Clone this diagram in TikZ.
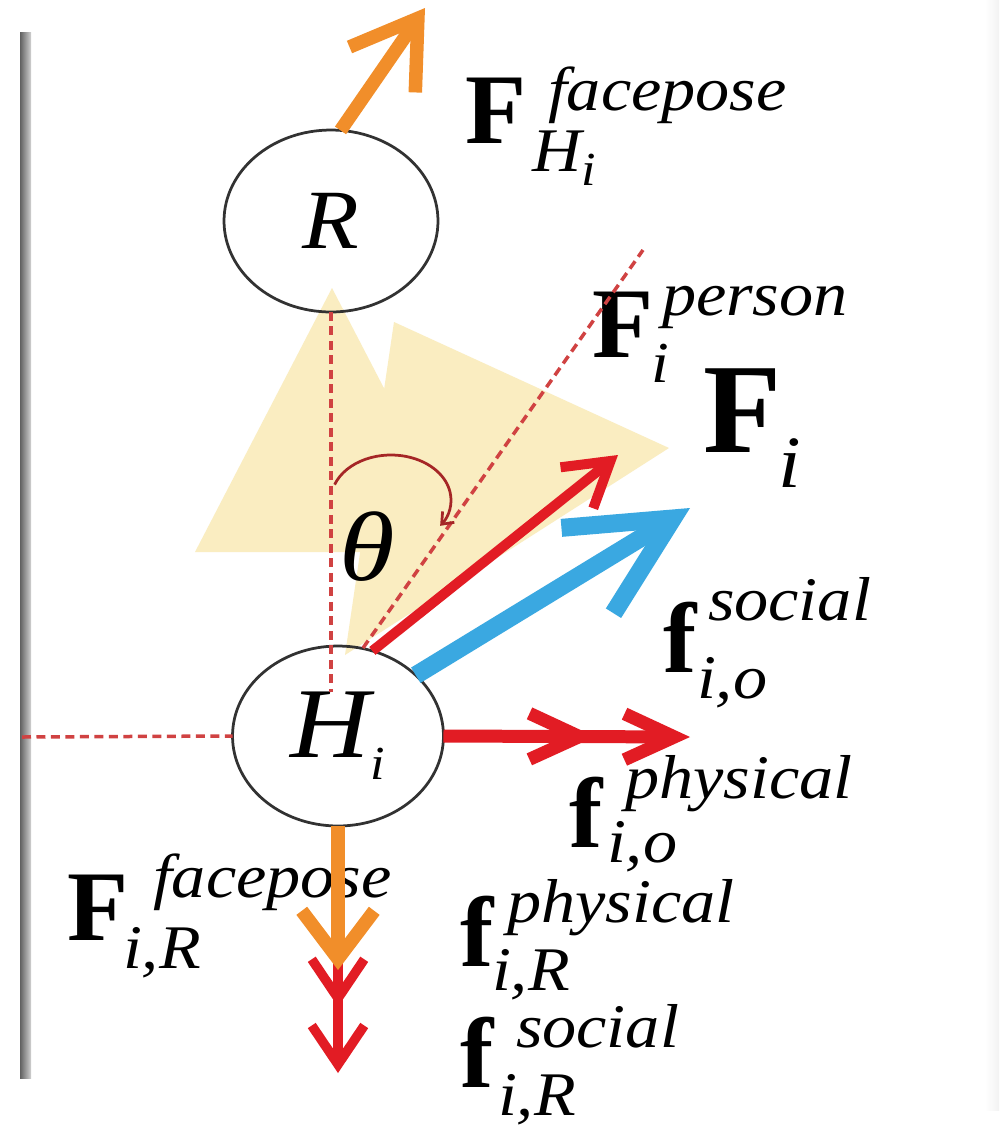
\documentclass[tikz,border=0pt]{standalone}
\usepackage{fontspec}
\setmainfont{Liberation Serif}
\usepackage{graphicx}
\usetikzlibrary{arrows.meta,shapes.geometric}
\definecolor{dashred}{RGB}{208,66,66}
\definecolor{arrred}{RGB}{226,28,36}
\definecolor{arrorange}{RGB}{241,142,42}
\definecolor{arrblue}{RGB}{58,168,225}
\definecolor{triyellow}{RGB}{250,237,193}
\definecolor{thetared}{RGB}{165,38,38}
\definecolor{edgegray}{RGB}{50,50,50}
\newcommand\bfL[2]{{\fontsize{#1}{#1}\selectfont\bfseries #2}}
\newcommand\itL[2]{\scalebox{1.1}[1]{\fontsize{#1}{#1}\selectfont\itshape #2}}
\begin{document}
\begin{tikzpicture}[x=0.02cm,y=-0.02cm,
  lbl/.style={inner sep=0pt, outer sep=0pt, anchor=base west},
  agent/.style={draw=edgegray, line width=0.055cm, ellipse, inner sep=0pt, outer sep=0pt},
  guide/.style={draw=dashred, line width=0.07cm, dash pattern=on 0.18cm off 0.11cm},
  fov/.style={fill=triyellow, draw=none},
  orangearr/.style={draw=arrorange, line width=0.27cm},
  redarr/.style={draw=arrred, line width=0.2cm},
  redarrthick/.style={draw=arrred, line width=0.26cm},
  redarrthin/.style={draw=arrred, line width=0.19cm},
  bluearr/.style={draw=arrblue, line width=0.36cm},
  thetaarc/.style={draw=thetared, line width=0.055cm}
]
\useasboundingbox (0,0) rectangle (1002,1127);
\fill[white] (0,0) rectangle (1002,1127);
% frame edges
\shade[left color=black!62, right color=black!18] (20,32) rectangle (31,1078);
\shade[left color=white, right color=gray!10] (985,0) rectangle (999,1110);

% fields of view
\fill[fov] (332,288) -- (195,552) -- (469,552) -- cycle;
\fill[fov] (394,322) -- (669,448) -- (345,655) -- cycle;

% agents
\node[agent, minimum width=4.28cm, minimum height=3.64cm] (R) at (331,221) {\itL{48pt}{R}};
\node[agent, minimum width=4.22cm, minimum height=3.6cm] (H) at (338,736)
  {\itL{57pt}{H}\raisebox{-12.5pt}{\itL{27pt}{i}}};

% labels
\node[lbl] (L1F) at (465,143) {\bfL{56.9pt}{F}};
\node[lbl] (L1sup) at (548,110) {\itL{35.3pt}{facepose}};
\node[lbl] (L1sub) at (532,171) {\itL{35.3pt}{H}\raisebox{-8pt}{\itL{27pt}{i}}};

\node[lbl] (L2F) at (592,357) {\bfL{56.9pt}{F}};
\node[lbl] (L2sup) at (662,315) {\itL{35.3pt}{person}};
\node[lbl] (L2sub) at (651,382) {\itL{33pt}{i}};

\node[lbl] (L3F) at (703,452) {\bfL{72.8pt}{F}};
\node[lbl] (L3sub) at (778,487) {\itL{42pt}{i}};

\node[lbl] (L4f) at (663,672) {\bfL{56.9pt}{f}};
\node[lbl] (L4sup) at (708,620) {\itL{35.3pt}{social}};
\node[lbl] (L4sub) at (697,698) {\itL{35.3pt}{i,o}};

\node[lbl] (L5f) at (569,847) {\bfL{56.9pt}{f}};
\node[lbl] (L5sup) at (625,798) {\itL{35.3pt}{physical}};
\node[lbl] (L5sub) at (607,862) {\itL{35.3pt}{i,o}};

\node[lbl] (L6F) at (68,940) {\bfL{56.9pt}{F}};
\node[lbl] (L6sup) at (153,897) {\itL{35.3pt}{facepose}};
\node[lbl] (L6sub) at (123,968) {\itL{35.3pt}{i,R}};

\node[lbl] (L7f) at (460,966) {\bfL{56.9pt}{f}};
\node[lbl] (L7sup) at (507,922) {\itL{35.3pt}{physical}};
\node[lbl] (L7sub) at (492,990) {\itL{35.3pt}{i,R}};

\node[lbl] (L8f) at (460,1087) {\bfL{56.9pt}{f}};
\node[lbl] (L8sup) at (516,1047) {\itL{35.3pt}{social}};
\node[lbl] (L8sub) at (498,1115) {\itL{35.3pt}{i,R}};

\node[lbl] (theta) at (339,580) {\scalebox{1.15}[1]{\fontsize{56pt}{56pt}\selectfont\itshape θ}};

% guide lines
\coordinate (vEnd) at (331,692);
\coordinate (hStart) at (22,737);
\coordinate (dStart) at (363,648);
\coordinate (dEnd) at (643,250);
\draw[guide] (R.south) -- (vEnd);
\draw[guide] (hStart) -- (H.west);
\draw[guide] (dStart) -- (dEnd);

% angle arc
\coordinate (arcStart) at (334.6,484.6);
\draw[thetaarc, -{Straight Barb[length=0.2cm,width=0.32cm]}] (arcStart) arc[start angle=200, end angle=395, x radius=60, y radius=45];

% force arrows
\coordinate (tipRo) at (425,8);
\coordinate (tipRd) at (618,455);
\coordinate (tipB) at (690,508);
\coordinate (tipHr) at (690,737);
\coordinate (tipDo) at (338,970);
\coordinate (tipDr) at (338,1073);

\draw[redarrthin, -{Straight Barb[length=0.78cm,width=1.05cm,sep=0.28cm]Straight Barb[length=0.78cm,width=1.05cm]}] (H.south) -- (tipDr);
\draw[orangearr, -{Straight Barb[length=0.96cm,width=1.45cm]}] (H.south) -- (tipDo);
\draw[orangearr, -{Straight Barb[length=1.25cm,width=1.6cm]}] (R.84) -- (tipRo);
\draw[redarr, -{Straight Barb[length=0.86cm,width=1.05cm]}] (H.68) -- (tipRd);
\draw[bluearr, -{Straight Barb[length=2cm,width=2cm]}] (H.38) -- (tipB);
\draw[redarrthick, -{Straight Barb[length=1cm,width=0.92cm,sep=0.46cm]Straight Barb[length=1cm,width=0.92cm]}] (H.east) -- (tipHr);
\end{tikzpicture}
\end{document}
